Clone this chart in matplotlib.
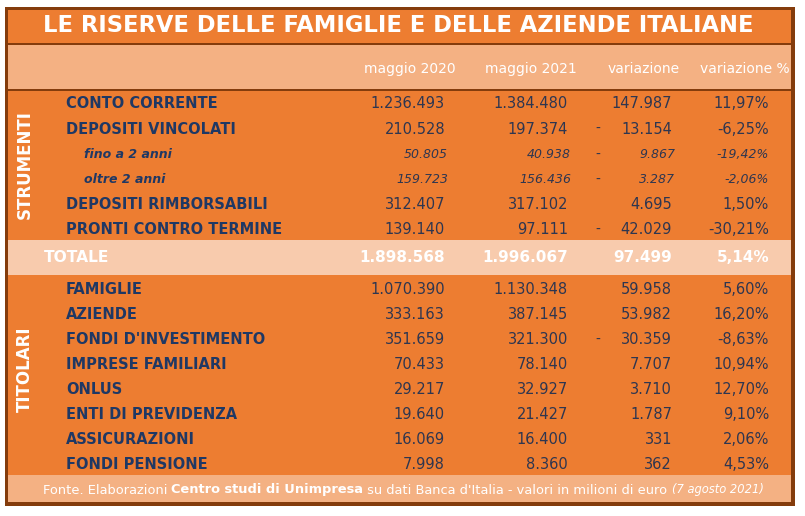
import matplotlib.pyplot as plt
from matplotlib.patches import Rectangle

# colori stile Office
ORANGE = '#ED7D31'
LIGHT = '#F4B183'
PALE = '#F8CBAD'
BROWN = '#843C0C'
NAVY = '#1F3864'
NUM = '#2E3650'

title = 'LE RISERVE DELLE FAMIGLIE E DELLE AZIENDE ITALIANE'
headers = ['maggio 2020', 'maggio 2021', 'variazione', 'variazione %']

# strumenti
lab_str = ['CONTO CORRENTE', 'DEPOSITI VINCOLATI', 'fino a 2 anni', 'oltre 2 anni',
           'DEPOSITI RIMBORSABILI', 'PRONTI CONTRO TERMINE']
sub_str = [False, False, True, True, False, False]
m2020_str = [1236493, 210528, 50805, 159723, 312407, 139140]
m2021_str = [1384480, 197374, 40938, 156436, 317102, 97111]
var_str = [147987, -13154, -9867, -3287, 4695, -42029]
pct_str = [11.97, -6.25, -19.42, -2.06, 1.50, -30.21]

# totale
tot = [1898568, 1996067, 97499, 5.14]

# titolari
lab_tit = ['FAMIGLIE', 'AZIENDE', "FONDI D'INVESTIMENTO", 'IMPRESE FAMILIARI', 'ONLUS',
           'ENTI DI PREVIDENZA', 'ASSICURAZIONI', 'FONDI PENSIONE']
m2020_tit = [1070390, 333163, 351659, 70433, 29217, 19640, 16069, 7998]
m2021_tit = [1130348, 387145, 321300, 78140, 32927, 21427, 16400, 8360]
var_tit = [59958, 53982, -30359, 7707, 3710, 1787, 331, 362]
pct_tit = [5.60, 16.20, -8.63, 10.94, 12.70, 9.10, 2.06, 4.53]

footer = [('Fonte. Elaborazioni ', 'normal', 'normal', 9.35),
          ('Centro studi di Unimpresa', 'bold', 'normal', 9.35),
          (" su dati Banca d'Italia - valori in milioni di euro ", 'normal', 'normal', 9.35),
          ('(7 agosto 2021)', 'normal', 'italic', 8.3)]

FONT = 'DejaVu Sans'


def fmt_int(v):
    return f'{abs(v):,}'.replace(',', '.')


def fmt_pct(p):
    return f'{p:.2f}'.replace('.', ',') + '%'


W, H = 805, 516
fig = plt.figure(figsize=(W / 100, H / 100), dpi=100)
ax = fig.add_axes([0, 0, 1, 1])
ax.set_xlim(0, W)
ax.set_ylim(H, 0)
ax.axis('off')
plt.rcParams['font.family'] = FONT

# cornice e fasce
ax.add_patch(Rectangle((5, 7), 790, 499, fc=BROWN, ec='none'))
bands = [(10, 43, ORANGE), (44.5, 88.5, LIGHT), (90.5, 240, ORANGE),
         (240, 275, PALE), (275, 475, ORANGE), (475, 502, LIGHT)]
for y0, y1, c in bands:
    ax.add_patch(Rectangle((8, y0), 783, y1 - y0, fc=c, ec='none'))

ax.text(398, 26, title, color='white', fontsize=16.3, weight='bold',
        ha='center', va='center')

col_right = [445, 568, 672, 769]
dash_x = 598
for x, h in zip([456, 577, 680, 790], headers):
    ax.text(x, 69, h, color='white', fontsize=10, ha='right', va='center')


def draw_row(y, label, vals, sub=False, label_x=66, color=NUM, lab_color=NAVY,
             bold_nums=False, fs=10.5, lab_fs=10.5):
    if sub:
        ax.text(label_x + 18, y, label, color=lab_color, fontsize=9, weight='bold',
                style='italic', va='center')
    else:
        ax.text(label_x, y, label, color=lab_color, fontsize=lab_fs, weight='bold', va='center')
    a, b, v, p = vals
    kw = dict(color=color, va='center', ha='right',
              fontsize=9 if sub else fs,
              style='italic' if sub else 'normal',
              weight='bold' if bold_nums else 'normal')
    off = 3 if sub else 0
    ax.text(col_right[0] + off, y, fmt_int(a), **kw)
    ax.text(col_right[1] + off, y, fmt_int(b), **kw)
    ax.text(col_right[2] + off, y, fmt_int(v), **kw)
    if v < 0:
        ax.text(dash_x, y, '-', color=color, va='center', ha='center', fontsize=10)
    ax.text(col_right[3], y, fmt_pct(p), **kw)


y_str = [104 + 25.2 * i for i in range(len(lab_str))]
for i, y in enumerate(y_str):
    draw_row(y, lab_str[i], (m2020_str[i], m2021_str[i], var_str[i], pct_str[i]),
             sub=sub_str[i])

draw_row(258, 'TOTALE', tot, label_x=44, color='white', lab_color='white',
         bold_nums=True, fs=11, lab_fs=11.2)

y_tit = [290 + 24.9 * i for i in range(len(lab_tit))]
for i, y in enumerate(y_tit):
    draw_row(y, lab_tit[i], (m2020_tit[i], m2021_tit[i], var_tit[i], pct_tit[i]))

ax.text(25, 164.5, 'STRUMENTI', color='white', fontsize=12,
        weight='bold', rotation=90, ha='center', va='center')
ax.text(25, 369, 'TITOLARI', color='white', fontsize=12,
        weight='bold', rotation=90, ha='center', va='center')

# nota a pie' di pagina con stili misti, centrata
renderer = fig.canvas.get_renderer()
pieces = []
x = 0
for s, w, st, fs in footer:
    t = ax.text(x, 490, s, color='white', fontsize=fs, weight=w, style=st,
                va='center', ha='left')
    bb = t.get_window_extent(renderer)
    pieces.append((t, bb.width))
    x += bb.width
start = 403 - x / 2
for t, wd in pieces:
    t.set_x(start)
    start += wd

fig.savefig('out.png', dpi=100)
